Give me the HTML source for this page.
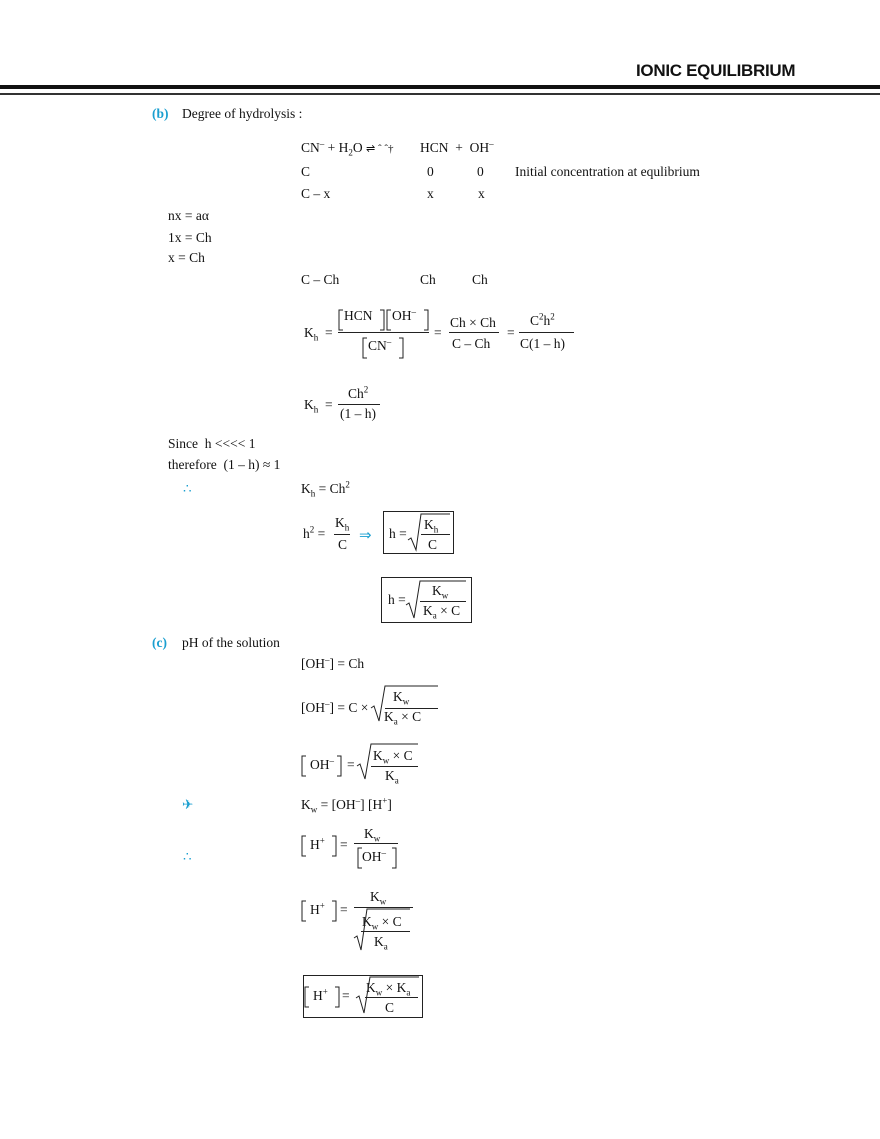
<!DOCTYPE html>
<html><head><meta charset="utf-8"><style>
body{margin:0;width:880px;height:1139px;background:#fff;position:relative;overflow:hidden;font-family:"Liberation Serif",serif;color:#111}
.t{position:absolute;white-space:nowrap;font-size:13.5px;line-height:16px}
.c{color:#1a9fd0}
.b{font-weight:bold}
sub,sup{font-size:9px;line-height:0}
svg{position:absolute;left:0;top:0}
</style></head><body>
<div class="t b" style="left:636px;top:61px;font-family:'Liberation Sans',sans-serif;font-size:17px;line-height:20px;letter-spacing:-0.3px">IONIC EQUILIBRIUM</div>
<div style="position:absolute;left:0;top:85px;width:880px;height:4px;background:#111"></div>
<div style="position:absolute;left:0;top:93px;width:880px;height:1.5px;background:#333"></div>

<div class="t c b" style="left:152px;top:106px">(b)</div>
<div class="t" style="left:182px;top:106px">Degree of hydrolysis :</div>

<div class="t" style="left:301px;top:140px">CN<sup>–</sup> + H<sub>2</sub>O <span style="font-size:11px">⇌ ˆ ˆ†</span></div>
<div class="t" style="left:420px;top:140px">HCN &nbsp;+&nbsp; OH<sup>–</sup></div>
<div class="t" style="left:301px;top:164px">C</div>
<div class="t" style="left:427px;top:164px">0</div>
<div class="t" style="left:477px;top:164px">0</div>
<div class="t" style="left:515px;top:164px">Initial concentration at equlibrium</div>
<div class="t" style="left:301px;top:186px">C – x</div>
<div class="t" style="left:427px;top:186px">x</div>
<div class="t" style="left:478px;top:186px">x</div>

<div class="t" style="left:168px;top:208px">nx = aα</div>
<div class="t" style="left:168px;top:230px">1x = Ch</div>
<div class="t" style="left:168px;top:250px">x = Ch</div>
<div class="t" style="left:301px;top:272px">C – Ch</div>
<div class="t" style="left:420px;top:272px">Ch</div>
<div class="t" style="left:472px;top:272px">Ch</div>

<!-- Kh big -->
<div class="t" style="left:304px;top:325px">K<sub>h</sub> &nbsp;=</div>
<div class="t" style="left:344px;top:308px">HCN</div>
<div class="t" style="left:392px;top:308px">OH<sup>–</sup></div>
<div class="t" style="left:368px;top:338px">CN<sup>–</sup></div>
<div class="t" style="left:434px;top:325px">=</div>
<div class="t" style="left:450px;top:315px">Ch × Ch</div>
<div class="t" style="left:452px;top:336px">C – Ch</div>
<div class="t" style="left:507px;top:325px">=</div>
<div class="t" style="left:530px;top:313px">C<sup>2</sup>h<sup>2</sup></div>
<div class="t" style="left:520px;top:336px">C(1 – h)</div>

<div class="t" style="left:304px;top:397px">K<sub>h</sub> &nbsp;=</div>
<div class="t" style="left:348px;top:386px">Ch<sup>2</sup></div>
<div class="t" style="left:340px;top:406px">(1 – h)</div>

<div class="t" style="left:168px;top:436px">Since &nbsp;h &lt;&lt;&lt;&lt; 1</div>
<div class="t" style="left:168px;top:457px">therefore &nbsp;(1 – h) ≈ 1</div>
<div class="t c" style="left:183px;top:481px">∴</div>
<div class="t" style="left:301px;top:481px">K<sub>h</sub> = Ch<sup>2</sup></div>

<div class="t" style="left:303px;top:526px">h<sup>2</sup> =</div>
<div class="t" style="left:335px;top:515px">K<sub>h</sub></div>
<div class="t" style="left:338px;top:537px">C</div>
<div class="t c" style="left:359px;top:528px;font-size:15px">⇒</div>
<div class="t" style="left:389px;top:526px">h =</div>
<div class="t" style="left:424px;top:517px">K<sub>h</sub></div>
<div class="t" style="left:428px;top:537px">C</div>

<div class="t" style="left:388px;top:592px">h =</div>
<div class="t" style="left:432px;top:583px">K<sub>w</sub></div>
<div class="t" style="left:423px;top:603px">K<sub>a</sub> × C</div>

<div class="t c b" style="left:152px;top:635px">(c)</div>
<div class="t" style="left:182px;top:635px">pH of the solution</div>
<div class="t" style="left:301px;top:656px">[OH<sup>–</sup>] = Ch</div>

<div class="t" style="left:301px;top:700px">[OH<sup>–</sup>] = C ×</div>
<div class="t" style="left:393px;top:689px">K<sub>w</sub></div>
<div class="t" style="left:384px;top:709px">K<sub>a</sub> × C</div>

<div class="t" style="left:310px;top:757px">OH<sup>–</sup></div>
<div class="t" style="left:347px;top:757px">=</div>
<div class="t" style="left:373px;top:748px">K<sub>w</sub> × C</div>
<div class="t" style="left:385px;top:768px">K<sub>a</sub></div>

<div class="t c" style="left:182px;top:797px">✈</div>
<div class="t" style="left:301px;top:797px">K<sub>w</sub> = [OH<sup>–</sup>] [H<sup>+</sup>]</div>

<div class="t" style="left:310px;top:837px">H<sup>+</sup></div>
<div class="t" style="left:340px;top:837px">=</div>
<div class="t" style="left:364px;top:826px">K<sub>w</sub></div>
<div class="t" style="left:362px;top:849px">OH<sup>–</sup></div>
<div class="t c" style="left:183px;top:849px">∴</div>

<div class="t" style="left:310px;top:902px">H<sup>+</sup></div>
<div class="t" style="left:340px;top:902px">=</div>
<div class="t" style="left:370px;top:889px">K<sub>w</sub></div>
<div class="t" style="left:362px;top:914px">K<sub>w</sub> × C</div>
<div class="t" style="left:374px;top:934px">K<sub>a</sub></div>

<div class="t" style="left:313px;top:988px">H<sup>+</sup></div>
<div class="t" style="left:342px;top:988px">=</div>
<div class="t" style="left:366px;top:980px">K<sub>w</sub> × K<sub>a</sub></div>
<div class="t" style="left:385px;top:1000px">C</div>

<svg width="880" height="1139" fill="none" stroke="#222" stroke-width="1">
<!-- Kh fraction -->
<line x1="338" y1="332.5" x2="429" y2="332.5"/>
<path d="M343 310 h-4 v20 h4 M380 310 h4 v20 h-4 M391 310 h-4 v20 h4 M424 310 h4 v20 h-4"/>
<path d="M367 338 h-4 v20 h4 M399 338 h4 v20 h-4"/>
<line x1="449" y1="332.5" x2="499" y2="332.5"/>
<line x1="519" y1="332.5" x2="574" y2="332.5"/>
<line x1="338" y1="404.5" x2="380" y2="404.5"/>
<line x1="334" y1="534.5" x2="350" y2="534.5"/>
<!-- box1 -->
<rect x="383.5" y="511.5" width="70" height="42"/>
<path d="M408 540 l3 -2 l5 12 l5 -36 h29"/><line x1="421" y1="534.5" x2="450" y2="534.5"/>
<!-- box2 -->
<rect x="381.5" y="577.5" width="90" height="45"/>
<path d="M406 605 l3 -2 l5 15 l6 -37 h46"/><line x1="420" y1="601.5" x2="466" y2="601.5"/>
<!-- OH = C x sqrt -->
<path d="M371 708 l3 -2 l5 15 l6 -35 h53"/><line x1="385" y1="708.5" x2="438" y2="708.5"/>
<!-- [OH] = sqrt -->
<path d="M306 756 h-4 v20 h4 M337 756 h4 v20 h-4"/>
<path d="M357 766 l3 -2 l5 15 l6 -35 h47"/><line x1="371" y1="766.5" x2="418" y2="766.5"/>
<!-- H+ = Kw/[OH] -->
<path d="M306 836 h-4 v20 h4 M332 836 h4 v20 h-4"/>
<line x1="354" y1="843.5" x2="398" y2="843.5"/>
<path d="M362 848 h-4 v20 h4 M392 848 h4 v20 h-4"/>
<!-- H+ = Kw / sqrt -->
<path d="M306 901 h-4 v20 h4 M332 901 h4 v20 h-4"/>
<line x1="354" y1="907.5" x2="413" y2="907.5"/>
<path d="M354 938 l3 -2 l4 14 l6 -41 h43"/><line x1="361" y1="931.5" x2="410" y2="931.5"/>
<!-- final box -->
<rect x="303.5" y="975.5" width="119" height="42"/>
<path d="M309 987 h-4 v20 h4 M335 987 h4 v20 h-4"/>
<path d="M356 998 l3 -2 l5 17 l6 -36 h49"/><line x1="365" y1="997.5" x2="418" y2="997.5"/>
</svg>
</body></html>
